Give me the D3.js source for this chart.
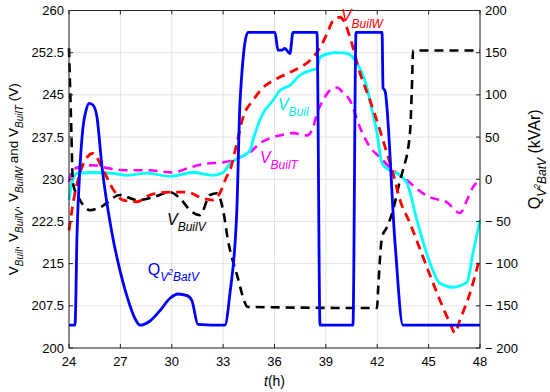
<!DOCTYPE html>
<html lang="en">
<head>
    <meta charset="utf-8">
    <title>Building voltages and battery reactive power</title>
    <script src="https://d3js.org/d3.v7.min.js"></script>
    <style>
        body {
            margin: 0;
            background: white;
            font-family: Arial, 'Liberation Sans', sans-serif;
        }
        .tick-label { font-size: 13px; fill: #000; }
        .grid line { stroke: #e3e3e3; stroke-width: 1; }
    </style>
</head>
<body>
    <div id="chart"></div>

    <script>
        // ---- data (t in hours) ----
        // Q_{V^2BatV}, right axis (kVAr)
        const tQ = [24, 24.35, 24.47, 24.64, 24.82, 25.0, 25.17, 25.4, 25.63, 25.93, 26.51, 27.0, 27.45, 27.85, 28.15, 28.73, 29.3, 29.9, 30.36, 30.9, 31.18, 31.53, 33.1, 33.4, 33.8, 33.99, 34.45, 36.03, 36.2, 36.44, 36.6, 36.9, 37.08, 38.48, 38.66, 40.58, 40.76, 42.28, 42.34, 42.45, 43.04, 43.5, 48];
        const vQ = [-173, -173, -64, 14, 62, 82, 90, 88, 74, 14, -64, -110, -143, -165, -173, -168, -156, -141, -136, -138, -144, -172, -173, -135, -37, 93, 174, 174, 153, 153, 155, 149, 174, 174, -173, -173, 174, 174, 108, 105, -76, -173, -173];

        // V_Buil, left axis (V)
        const tBuil = [24.0, 24.18, 24.47, 25.4, 26.4, 27.4, 28.55, 29.9, 31.24, 32.4, 33.0, 33.4, 33.99, 34.57, 34.74, 34.98, 35.33, 35.91, 36.32, 36.9, 37.49, 38.07, 38.48, 38.66, 39.24, 39.65, 40.23, 40.82, 41.17, 41.4, 41.7, 41.99, 42.28, 42.74, 43.33, 43.74, 44.32, 45.08, 45.66, 46.42, 47.24, 47.59, 48];
        const vBuil = [226.3, 229.5, 231.1, 231.2, 231.1, 230.7, 231.1, 230.5, 231.2, 230.7, 231.2, 232.8, 233.9, 235.1, 236.9, 239.2, 241.7, 244.0, 245.8, 246.7, 248.5, 249.3, 249.7, 251.7, 252.4, 252.5, 252.4, 250.6, 248.5, 246.3, 242.2, 238.2, 232.8, 231.6, 230.7, 229.3, 222.7, 215.1, 211.5, 210.8, 211.7, 216.9, 222.7];

        // V_BuilV, left axis (V)
        const tBuilV = [24.0, 24.12, 24.23, 24.64, 25.23, 25.81, 26.98, 27.97, 28.9, 29.9, 30.48, 31.07, 31.65, 32.23, 32.64, 33.0, 33.28, 33.81, 34.45, 41.99, 42.04, 42.28, 42.57, 42.92, 43.33, 43.5, 43.91, 44.03, 44.09, 48];
        const vBuilV = [253.3, 240.5, 229.3, 226.3, 224.5, 225.0, 227.2, 226.3, 226.8, 227.7, 226.6, 224.5, 223.6, 227.2, 227.5, 224.5, 219.2, 213.0, 207.3, 207.1, 209.8, 219.7, 221.5, 224.5, 229.8, 231.6, 238.2, 247.0, 252.9, 252.9];

        // V_BuilW, left axis (V)
        const tBuilW = [24.0, 24.3, 24.64, 25.05, 25.4, 26.0, 26.6, 27.15, 27.97, 28.73, 29.9, 30.9, 31.8, 32.4, 32.8, 33.2, 33.4, 33.8, 34.16, 34.74, 35.33, 36.15, 36.9, 37.49, 38.07, 38.66, 39.07, 39.42, 39.82, 40.12, 40.41, 41.0, 41.58, 42.16, 42.57, 42.92, 43.33, 43.91, 44.67, 45.66, 46.25, 46.54, 46.83, 47.42, 48];
        const vBuilW = [220.9, 226.8, 231.1, 233.9, 234.6, 231.6, 228.1, 226.3, 226.0, 227.2, 227.7, 227.7, 226.6, 226.3, 227.5, 230.4, 231.6, 236.4, 241.0, 244.0, 246.3, 247.9, 249.0, 249.9, 251.1, 253.4, 255.9, 258.2, 258.8, 257.7, 255.2, 248.8, 244.0, 238.7, 234.6, 231.1, 226.3, 222.2, 216.2, 208.5, 204.4, 202.7, 205.0, 209.8, 216.2];

        // V_BuilT, left axis (V)
        const tBuilT = [24.0, 24.18, 24.82, 25.4, 26.22, 27.39, 28.55, 30.07, 31.07, 32.06, 32.99, 33.99, 34.57, 35.15, 35.74, 36.32, 37.08, 37.9, 38.25, 38.48, 38.83, 39.24, 39.65, 40.0, 40.41, 40.99, 41.58, 42.16, 42.74, 43.74, 44.67, 45.08, 46.07, 46.83, 47.24, 47.59, 48];
        const vBuilT = [229.5, 231.6, 232.3, 232.5, 232.0, 231.6, 231.6, 231.2, 232.1, 232.8, 233.0, 233.9, 234.8, 236.4, 237.3, 237.8, 238.2, 237.8, 239.2, 241.7, 244.0, 245.8, 246.3, 245.4, 244.0, 239.2, 235.7, 233.9, 232.1, 229.8, 227.5, 226.8, 225.9, 224.0, 226.3, 228.6, 229.8];

        const xTicks = [24, 27, 30, 33, 36, 39, 42, 45, 48];
        const leftTicks = [200, 207.5, 215, 222.5, 230, 237.5, 245, 252.5, 260];
        const rightTicks = [-200, -150, -100, -50, 0, 50, 100, 150, 200];

        // ---- layout ----
        const W = 550, H = 392;
        const plot = {left: 69, right: 480, top: 10.5, bottom: 348};

        const svg = d3.select("#chart")
            .append("svg")
            .attr("width", W)
            .attr("height", H);

        const x = d3.scaleLinear().domain([24, 48]).range([plot.left, plot.right]);
        const yL = d3.scaleLinear().domain([200, 260]).range([plot.bottom, plot.top]);
        const yR = d3.scaleLinear().domain([-200, 200]).range([plot.bottom, plot.top]);

        // grid
        const grid = svg.append("g").attr("class", "grid");
        grid.selectAll(".gx").data(xTicks).enter().append("line")
            .attr("x1", d => x(d)).attr("x2", d => x(d))
            .attr("y1", plot.top).attr("y2", plot.bottom);
        grid.selectAll(".gy").data(leftTicks).enter().append("line")
            .attr("x1", plot.left).attr("x2", plot.right)
            .attr("y1", d => yL(d)).attr("y2", d => yL(d));

        // series
        const zip = (ts, vs) => ts.map((t, i) => [t, vs[i]]);
        const lineL = d3.line().x(d => x(d[0])).y(d => yL(d[1])).curve(d3.curveMonotoneX);
        const lineR = d3.line().x(d => x(d[0])).y(d => yR(d[1])).curve(d3.curveMonotoneX);

        const plotArea = svg.append("g");

        plotArea.append("path")
            .datum(zip(tBuilT, vBuilT))
            .attr("d", lineL)
            .attr("fill", "none")
            .attr("stroke", "#ff00ff")
            .attr("stroke-width", 2.6)
            .attr("stroke-dasharray", "9,6");

        plotArea.append("path")
            .datum(zip(tBuil, vBuil))
            .attr("d", lineL)
            .attr("fill", "none")
            .attr("stroke", "#00ffff")
            .attr("stroke-width", 2.8);

        plotArea.append("path")
            .datum(zip(tBuilV, vBuilV))
            .attr("d", lineL)
            .attr("fill", "none")
            .attr("stroke", "#000")
            .attr("stroke-width", 2.6)
            .attr("stroke-dasharray", "9,6");

        plotArea.append("path")
            .datum(zip(tBuilW, vBuilW))
            .attr("d", lineL)
            .attr("fill", "none")
            .attr("stroke", "#ff0000")
            .attr("stroke-width", 2.8)
            .attr("stroke-dasharray", "9,6");

        plotArea.append("path")
            .datum(zip(tQ, vQ))
            .attr("d", lineR)
            .attr("fill", "none")
            .attr("stroke", "#0000ff")
            .attr("stroke-width", 2.8)
            .attr("stroke-linejoin", "round");

        // box + ticks
        const axisColor = "#262626";
        svg.append("rect")
            .attr("x", plot.left).attr("y", plot.top)
            .attr("width", plot.right - plot.left)
            .attr("height", plot.bottom - plot.top)
            .attr("fill", "none")
            .attr("stroke", axisColor)
            .attr("stroke-width", 1);

        const tickLen = 4;
        svg.selectAll(".xt").data(xTicks).enter().append("path")
            .attr("d", d => `M${x(d)},${plot.bottom}v${-tickLen}M${x(d)},${plot.top}v${tickLen}`)
            .attr("stroke", axisColor);
        svg.selectAll(".lt").data(leftTicks).enter().append("path")
            .attr("d", d => `M${plot.left},${yL(d)}h${tickLen}`)
            .attr("stroke", axisColor);
        svg.selectAll(".rt").data(rightTicks).enter().append("path")
            .attr("d", d => `M${plot.right},${yR(d)}h${-tickLen}`)
            .attr("stroke", axisColor);

        // tick labels
        svg.selectAll(".xl").data(xTicks).enter().append("text")
            .attr("class", "tick-label")
            .attr("x", d => x(d))
            .attr("y", 366)
            .attr("text-anchor", "middle")
            .text(d => d);

        svg.selectAll(".ll").data(leftTicks).enter().append("text")
            .attr("class", "tick-label")
            .attr("x", plot.left - 5)
            .attr("y", d => yL(d) + 4.5)
            .attr("text-anchor", "end")
            .text(d => d % 1 ? d.toFixed(1) : d);

        svg.selectAll(".rl").data(rightTicks).enter().append("text")
            .attr("class", "tick-label")
            .attr("x", plot.right + 5)
            .attr("y", d => yR(d) + 4.5)
            .text(d => d < 0 ? "\u2212 " + Math.abs(d) : d);

        // x label
        const xl = svg.append("text")
            .attr("x", x(36))
            .attr("y", 386)
            .attr("text-anchor", "middle")
            .style("font-size", "14px");
        xl.append("tspan").style("font-style", "italic").text("t");
        xl.append("tspan").text("(h)");

        // rich text helper: kind "n" normal, "s" subscript, "p" superscript inside a subscript
        function rich(sel, parts, size, subSize) {
            let level = 0;
            parts.forEach(([txt, kind]) => {
                const target = kind === "n" ? 0 : kind === "s" ? size * 0.4 : -size * 0.02;
                sel.append("tspan")
                    .attr("dy", target - level)
                    .style("font-size", (kind === "n" ? size : kind === "s" ? subSize : subSize * 0.7) + "px")
                    .style("font-style", kind === "n" ? null : "italic")
                    .text(txt);
                level = target;
            });
        }

        // left axis label
        const yLabel = svg.append("text")
            .attr("transform", `translate(18,${(plot.top + plot.bottom) / 2}) rotate(-90)`)
            .attr("text-anchor", "middle")
            .style("font-size", "13.5px");
        rich(yLabel, [
            ["V", "n"], ["Buil", "s"], [", V", "n"], ["BuilV", "s"], [", V", "n"], ["BuilW", "s"],
            [" and V", "n"], ["BuilT", "s"], [" (V)", "n"]
        ], 13.5, 10);

        // right axis label
        const rLabel = svg.append("text")
            .attr("transform", `translate(540,${(plot.top + plot.bottom) / 2 - 20}) rotate(-90)`)
            .attr("text-anchor", "middle")
            .style("font-size", "16px");
        rich(rLabel, [["Q", "n"], ["V", "s"], ["2", "p"], ["BatV", "s"], [" (kVAr)", "n"]], 16, 12);

        // in-plot series labels
        const seriesLabels = [
            {t: 39.88, v: 258.1, color: "#ff0000", sub: "BuilW"},
            {t: 36.2, v: 242.3, color: "#00e5e5", sub: "Buil"},
            {t: 35.15, v: 232.9, color: "#ff00ff", sub: "BuilT"},
            {t: 29.72, v: 221.9, color: "#000000", sub: "BuilV"}
        ];
        seriesLabels.forEach(l => {
            const txt = svg.append("text")
                .attr("x", x(l.t))
                .attr("y", yL(l.v))
                .attr("fill", l.color)
                .style("font-style", "italic");
            rich(txt, [["V", "n"], [l.sub, "s"]], 16, 12);
        });

        const qLab = svg.append("text")
            .attr("x", x(28.6))
            .attr("y", yL(213))
            .attr("fill", "#0000ff");
        rich(qLab, [["Q", "n"], ["V", "s"], ["2", "p"], ["BatV", "s"]], 16, 12);
    </script>
</body>
</html>
